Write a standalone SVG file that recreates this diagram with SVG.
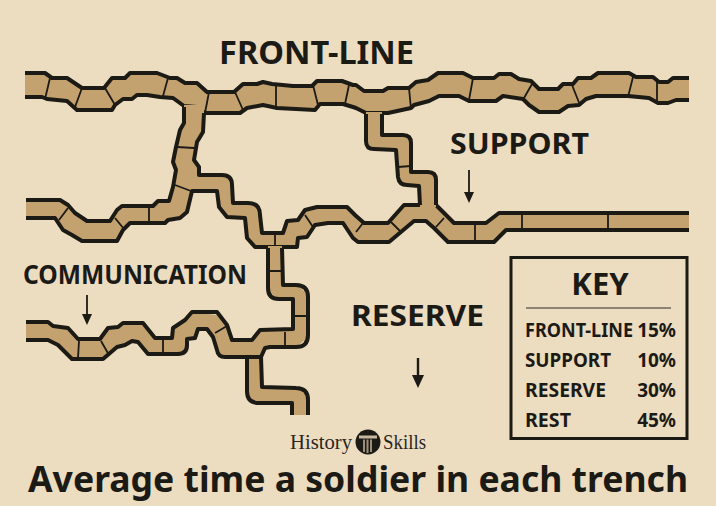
<svg xmlns="http://www.w3.org/2000/svg" width="716" height="506" viewBox="0 0 716 506">
<style>
.fill{fill:#c4a26f;stroke:none}
.edge{fill:none;stroke:#1c1a15;stroke-width:4;stroke-linejoin:round;stroke-linecap:butt}
.div{fill:none;stroke:#1c1a15;stroke-width:1.8}
text{font-family:"Noto Sans","Open Sans","Liberation Sans",sans-serif;font-weight:700;fill:#1c1a15}
.arrow{stroke:#1c1a15;stroke-width:1.8;fill:none}
.head{fill:#1c1a15}
.row{font-size:19px}
.end{text-anchor:end}
.logo{font-family:"Liberation Serif",serif;font-weight:400;font-size:21px;fill:#2a2620}
</style>
<rect id="background" width="716" height="506" fill="#ecdcc0"/>
<g id="trenches">
<g id="front-line-trench">
<path class="fill" d="M25 73L45 73L52 78L67 78L82 88L104 88L112 78L125 78L130 73L157 73L170 78L177 78L185 83L197 83L207 92L234 92L243 84L257 84L263 82L272 84L293 86L312 86L317 81L342 81L353 85L356 85L364 91L383 91L388 88L409 88L416 82L428 80L438 73L463 73L473 78L494 78L499 74L511 74L519 79L531 81L539 89L558 89L563 84L573 84L578 78L591 78L598 73L629 73L636 77L653 77L659 82L668 82L673 78L689 78L689 100L676 100L668 103L658 103L649 98L628 96L596 96L586 99L579 105L568 106L559 112L539 112L529 105L523 99L503 96L496 101L469 101L459 96L439 96L429 101L414 105L411 108L388 113L383 113L366 115L356 108L353 107L343 104L320 104L315 110L277 108L263 105L247 108L240 113L205 113L197 107L184 106L173 98L160 97L147 95L137 95L132 99L123 99L115 105L112 110L77 110L67 101L47 99L42 97L25 97Z"/>
<path class="edge" d="M25 73L45 73L52 78L67 78L82 88L104 88L112 78L125 78L130 73L157 73L170 78L177 78L185 83L197 83L207 92L234 92L243 84L257 84L263 82L272 84L293 86L312 86L317 81L342 81L353 85L356 85L364 91L383 91L388 88L409 88L416 82L428 80L438 73L463 73L473 78L494 78L499 74L511 74L519 79L531 81L539 89L558 89L563 84L573 84L578 78L591 78L598 73L629 73L636 77L653 77L659 82L668 82L673 78L689 78M689 100L676 100L668 103L658 103L649 98L628 96L596 96L586 99L579 105L568 106L559 112L539 112L529 105L523 99L503 96L496 101L469 101L459 96L439 96L429 101L414 105L411 108L388 113L366 113L356 108L353 107L343 104L320 104L315 110L277 108L263 105L247 108L240 113L205 113L197 107L184 106L173 98L160 97L147 95L137 95L132 99L123 99L115 105L112 110L77 110L67 101L47 99L42 97L25 97"/>
<path class="div" d="M50 78L45 99M82 88L75 107M105 88L115 105M168 78L163 96M209 92L205 113M235 92L243 110M276 85L276 108M313 85L318 105M349 85L345 104M409 88L411 109M473 78L469 100M532 84L524 98M572 85L580 105M633 77L628 97M657 82L657 102"/>
</g>
<g id="support-trench">
<path class="fill" d="M26 200L60 200L68 205L75 213L87 221L110 221L117 210L122 206L153 206L158 201L169 201L173 187L176 170L173 162L176 147L180 130L184 123L184 105L204 105L204 113L203 132L197 142L194 160L199 167L199 175L227 175L232 183L233 203L253 203L260 212L262 233L283 233L287 221L298 220L305 210L317 207L347 207L355 215L364 223L388 223L404 205L436 205L454 223L486 223L499 213L689 213L689 230L506 230L494 242L448 242L434 228L426 221L414 221L389 242L358 242L353 238L343 223L328 223L315 225L307 237L298 238L297 247L255 247L247 238L245 218L227 217L219 207L217 191L192 191L187 212L180 218L168 220L165 223L130 223L123 230L117 241L82 241L72 235L63 230L55 218L26 218Z"/>
<path class="edge" d="M26 200L60 200L68 205L75 213L87 221L110 221L117 210L122 206L153 206L158 201L169 201L173 187L176 170L173 162L176 147L180 130L184 123L184 107M204 113L203 132L197 142L194 160L199 167L199 175L222 175Q232 175 232 185L233 203L248 203Q260 203 260 215L262 233L283 233L287 221L298 220L305 210L317 207L347 207L355 215L364 223L388 223L404 205L436 205L454 223L486 223L499 213L689 213M689 230L506 230L494 242L448 242L434 228L426 221L414 221L389 242L358 242L353 238L343 223L328 223L315 225L307 237L298 238L297 247L255 247L247 238L245 218L227 217L219 207L217 191L192 191L187 212L180 218L168 220L165 223L130 223L123 230L117 241L82 241L72 235L63 230L55 218L26 218"/>
<path class="div" d="M177 147L194 148M175 185L191 191M68 208L59 220M115 218L124 229M149 207L149 223M275 234L275 247M305 215L313 227M363 223L356 232M391 222L400 231M444 218L436 227M475 225L475 242M522 214L522 229M608 214L608 229"/>
</g>
<g id="front-support-link">
<path class="fill" d="M366 112L366 142L373 149L396 150L398 177L403 184L419 186L420 207L436 207L436 178L431 172L411 172L411 142L406 135L382 135L382 112Z"/>
<path class="edge" d="M366 114L366 141Q366 149 374 149L396 150L398 177Q399 185 407 185L419 186L420 205M436 205L436 180Q436 172 428 172L411 172L411 143Q411 135 403 135L382 135L382 114"/>
<path class="div" d="M398 167L411 166"/>
</g>
<g id="reserve-trench">
<path class="fill" d="M26 322L48 322L53 326L68 328L78 339L100 339L108 328L118 327L123 323L143 323L155 338L172 338L173 328L185 320L192 312L217 315L227 327L232 340L252 339L260 330L293 329L293 299L277 299L268 290L268 246L282 246L283 285L298 285L308 295L308 337L297 347L270 347L265 348L261 357L262 387L298 388L308 397L308 415L292 415L292 403L255 403L247 393L247 357L223 357L217 352L213 337L207 329L198 329L195 338L187 339L187 347L182 354L148 354L138 342L132 341L125 345L117 347L103 359L72 359L58 345L48 340L26 340Z"/>
<path class="edge" d="M26 322L48 322L53 326L68 328L78 339L100 339L108 328L118 327L123 323L143 323L155 338L172 338L173 328L185 320L192 312L217 312L227 325L232 340L252 340L260 330L293 329L293 299L279 299Q268 299 268 288L268 248M282 248L283 285L296 285Q308 285 308 297L308 335Q308 347 296 347L270 347L265 348L261 357L262 387L296 388Q308 388 308 400L308 415M292 415L292 403L259 403Q247 403 247 391L247 357M26 340L48 340L58 345L72 359L103 359L117 347L125 345L132 341L138 342L148 354L178 354Q187 354 187 345L187 339L195 338L198 329L207 329L213 337L217 350Q218 357 225 357L262 357"/>
<path class="div" d="M79 341L78 358M101 341L109 355M163 338L163 355M215 333L227 326M285 332L285 347M294 316L308 316M268 271L283 271"/>
</g>
</g>
<g id="labels">
<text x="219" y="64" font-size="33" textLength="195" lengthAdjust="spacingAndGlyphs">FRONT-LINE</text>
<text x="450" y="154" font-size="29" textLength="139" lengthAdjust="spacingAndGlyphs">SUPPORT</text>
<text x="23" y="284" font-size="26" textLength="224" lengthAdjust="spacingAndGlyphs">COMMUNICATION</text>
<text x="351" y="326" font-size="28" textLength="133" lengthAdjust="spacingAndGlyphs">RESERVE</text>
</g>
<g id="arrows">
<path class="arrow" d="M469 170L469 196"/><path class="head" d="M464 192L474 192L469 203Z"/>
<path class="arrow" d="M87 295L87 318"/><path class="head" d="M82 314L92 314L87 325Z"/>
<path class="arrow" style="stroke-width:2.400" d="M418 358L418 380"/><path class="head" d="M412 375L424 375L418 388Z"/>
</g>
<g id="key">
<rect x="511" y="257.500" width="176" height="181" fill="none" stroke="#1c1a15" stroke-width="3"/>
<text x="600" y="295" font-size="31" text-anchor="middle">KEY</text>
<path d="M526 308L671 308" stroke="#6b675c" stroke-width="1.500"/>
<text class="row" x="525" y="337" textLength="108" lengthAdjust="spacingAndGlyphs">FRONT-LINE</text><text class="row end" x="676" y="337">15%</text>
<text class="row" x="525" y="367" textLength="86" lengthAdjust="spacingAndGlyphs">SUPPORT</text><text class="row end" x="676" y="367">10%</text>
<text class="row" x="525" y="397" textLength="81" lengthAdjust="spacingAndGlyphs">RESERVE</text><text class="row end" x="676" y="397">30%</text>
<text class="row" x="525" y="427" textLength="46" lengthAdjust="spacingAndGlyphs">REST</text><text class="row end" x="676" y="427">45%</text>
</g>
<g id="logo">
<text class="logo" x="290" y="449" textLength="62" lengthAdjust="spacingAndGlyphs">History</text>
<circle cx="368" cy="442" r="12.500" fill="#1c1a15"/>
<path d="M359 435.500L377 435.500L377 438.500L359 438.500Z" fill="#c9b99c"/>
<path d="M363 439.500L365 439.500L365 452L363 452ZM366.500 439.500L368.500 439.500L368.500 453L366.500 453ZM370 439.500L372 439.500L372 452L370 452Z" fill="#9b8f7c"/>
<text class="logo" x="383" y="449" textLength="43" lengthAdjust="spacingAndGlyphs">Skills</text>
</g>
<text id="title" x="28" y="492" font-size="35" textLength="660" lengthAdjust="spacingAndGlyphs">Average time a soldier in each trench</text>
</svg>
